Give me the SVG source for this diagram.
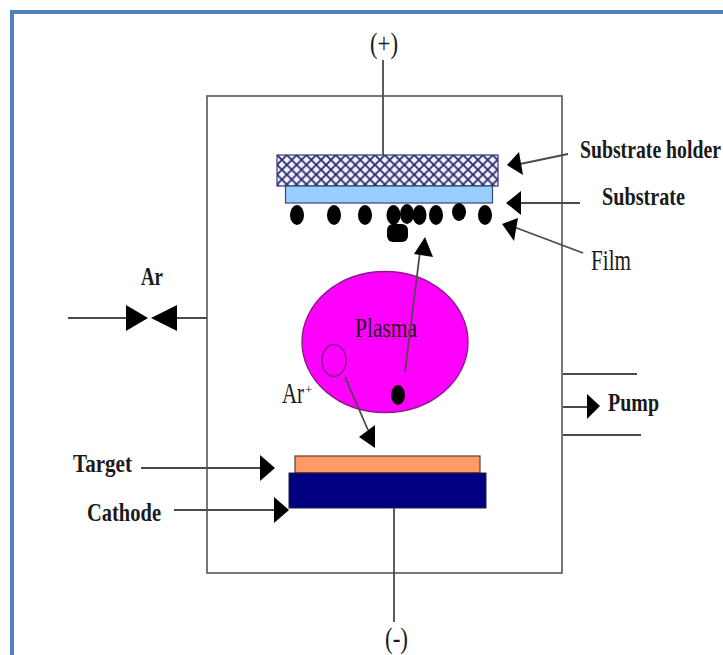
<svg xmlns="http://www.w3.org/2000/svg" width="723" height="655" viewBox="0 0 723 655">
<style>
.l{stroke:#4a4a4a;stroke-width:1.8;fill:none}
.h{fill:#000}
.t{font-family:"Liberation Serif",serif;fill:#1a1a1a}
.b{font-weight:bold;font-size:26px}
.n{font-size:29px}
</style>
<defs>
<pattern id="x" width="9.8" height="9.8" patternUnits="userSpaceOnUse" x="277" y="155">
<rect width="9.8" height="9.8" fill="#f2f2fc"/>
<path d="M0 0L9.8 9.8M9.8 0L0 9.8" stroke="#2a2a70" stroke-width="1.8"/>
</pattern>
</defs>
<rect width="723" height="655" fill="#fff"/>
<path id="frame" d="M12 655V12H723" fill="none" stroke="#4f81bd" stroke-width="4"/>
<g id="chamber"><rect x="207" y="96" width="355" height="477" fill="#fff" stroke="#555" stroke-width="1.6"/></g>
<g id="plasma"><ellipse cx="385" cy="342" rx="83" ry="70.5" fill="#ff00ff" stroke="#8a1a8a" stroke-width="1.4"/>
<text class="t" x="355" y="337" font-size="28" textLength="62" lengthAdjust="spacingAndGlyphs" fill="#3a1050">Plasma</text></g>
<g id="holder"><rect x="277" y="155" width="221" height="31" fill="url(#x)" stroke="#33337f" stroke-width="1.2"/></g>
<g id="substrate"><rect x="285.500" y="186" width="207" height="17" fill="#99ccff" stroke="#334a70" stroke-width="1.2"/></g>
<g id="film">
<ellipse class="h" cx="297" cy="215" rx="7" ry="10"/><ellipse class="h" cx="334" cy="215" rx="7" ry="10"/><ellipse class="h" cx="365" cy="215" rx="7" ry="10"/><ellipse class="h" cx="393.500" cy="215" rx="7" ry="10"/><ellipse class="h" cx="407" cy="214" rx="7" ry="10"/><ellipse class="h" cx="419.500" cy="215" rx="7" ry="10"/><ellipse class="h" cx="436" cy="215" rx="7" ry="10"/><ellipse class="h" cx="459" cy="212" rx="7" ry="9"/><ellipse class="h" cx="485" cy="215" rx="7" ry="10"/>
<rect class="h" x="387" y="224" width="21" height="18" rx="6"/>
</g>
<g id="target"><rect x="295" y="456" width="185" height="17" fill="#ff9966" stroke="#5a4030" stroke-width="1.2"/></g>
<g id="cathode"><rect x="289" y="473" width="197" height="35" fill="#000080" stroke="#223" stroke-width="1"/></g>
<g id="ar-ion"><ellipse cx="334" cy="360.500" rx="12" ry="16" fill="none" stroke="#8a1a8a" stroke-width="1.5"/></g>
<g id="sputtered-atom"><ellipse class="h" cx="398" cy="395" rx="7" ry="10"/></g>
<g id="connectors">
<path class="l" d="M383 60V155"/>
<path class="l" d="M394 508V622"/>
<path class="l" d="M68 318H128M176 318H207"/>
<path class="h" d="M126 305L148 318L126 331ZM177 305L151 318L177 331Z"/>
<path class="l" d="M563 374H637M563 407H588M563 435H641"/>
<path class="h" d="M587 394L600 406L587 419Z"/>
<path class="l" d="M568 154L520 164"/>
<path class="h" d="M507 165L519 152L523 175Z"/>
<path class="l" d="M580 203H520"/>
<path class="h" d="M506 203L521 191L521 215Z"/>
<path class="l" d="M583 253L514 227"/>
<path class="h" d="M502 224L518 218L514 241Z"/>
<path class="l" d="M405 372L420 252"/>
<path class="h" d="M425 237L414 254L433 257Z"/>
<path class="l" d="M345 377L368 430"/>
<path class="h" d="M375 448L359 437L375 425Z"/>
<path class="l" d="M141 468H262"/>
<path class="h" d="M275 468L260 455L260 481Z"/>
<path class="l" d="M174 510H275"/>
<path class="h" d="M289 510L274 497L274 523Z"/>
</g>
<g id="labels">
<text class="t n" x="370" y="53" textLength="28" lengthAdjust="spacingAndGlyphs">(+)</text>
<text class="t n" x="385" y="648" textLength="23" lengthAdjust="spacingAndGlyphs">(-)</text>
<text class="t b" x="141" y="285" textLength="22" lengthAdjust="spacingAndGlyphs">Ar</text>
<text class="t n" transform="translate(282 403) scale(.72 1)">Ar</text>
<text class="t" x="305" y="394" font-size="13">+</text>
<text class="t b" transform="translate(580 158) scale(.79 1)" style="font-size:25px">Substrate holder</text>
<text class="t b" x="602" y="205" textLength="83" lengthAdjust="spacingAndGlyphs">Substrate</text>
<text class="t n" x="591" y="270" textLength="40" lengthAdjust="spacingAndGlyphs">Film</text>
<text class="t b" x="608" y="411" textLength="51" lengthAdjust="spacingAndGlyphs">Pump</text>
<text class="t b" x="73" y="472" textLength="59" lengthAdjust="spacingAndGlyphs">Target</text>
<text class="t b" x="87" y="521" textLength="74" lengthAdjust="spacingAndGlyphs">Cathode</text>
</g>
</svg>
